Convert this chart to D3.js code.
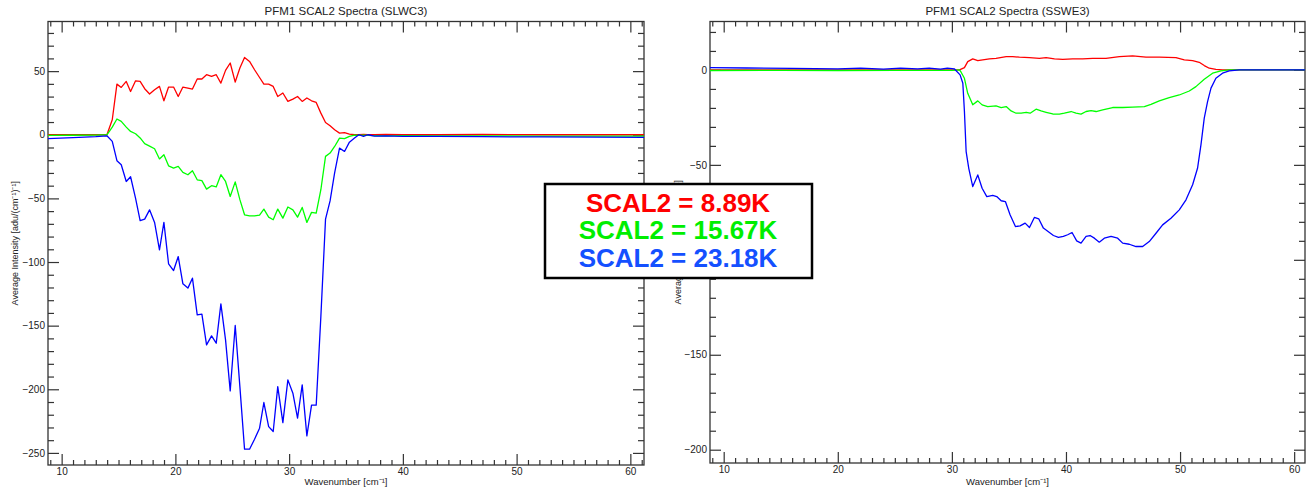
<!DOCTYPE html>
<html><head><meta charset="utf-8">
<script src="https://cdn.jsdelivr.net/npm/d3@7"></script>
<style>body{margin:0;background:#fff;} svg{display:block;font-family:"Liberation Sans",Arial,sans-serif;}</style>
</head><body><svg id="c" width="1314" height="489"></svg>
<script>
// ---------- DATA ----------
const leftX = [8.8, 11.0, 13.0, 13.98, 14.45, 14.86, 15.24, 15.68, 16.06, 16.5, 16.9, 17.3, 17.73, 18.17, 18.6, 18.99, 19.4, 19.84, 20.25, 20.66, 21.1, 21.5, 21.92, 22.33, 22.74, 23.18, 23.59, 24.0, 24.41, 24.82, 25.26, 25.67, 26.08, 26.52, 26.96, 27.4, 27.78, 28.2, 28.6, 29.0, 29.45, 29.89, 30.33, 30.74, 31.15, 31.56, 31.97, 32.38, 32.79, 33.2, 33.6, 34.0, 34.43, 34.87, 35.3, 35.75, 36.13, 36.54, 36.92, 37.5, 38.5, 40, 43, 47, 52, 57, 61.2];
const leftRed = [0, 0, 0, 0, 11.8, 39.8, 37.2, 41.9, 34, 42.4, 41.9, 36.2, 32, 35.4, 38, 26.7, 37.5, 37.5, 30.1, 37.5, 36.7, 35.9, 43.8, 43.8, 47.2, 45.9, 47.2, 40.6, 50.6, 56.4, 41.4, 52.4, 60.8, 57.6, 51.1, 45, 39.8, 39.8, 38, 30.1, 32.8, 26.2, 28, 30.1, 26.2, 28.9, 26.7, 25.4, 17, 9.7, 7.1, 3.9, 1.3, 1.6, 0.5, 0, 0, 0.3, 0, 0, 0.2, 0, 0, 0.2, 0, 0, 0];
const leftGreen = [-0.5, -0.4, -0.3, 0, 6, 12.4, 10.5, 6, 2.6, 0.8, -2.5, -7, -8.9, -11, -19, -15.7, -24.4, -26.2, -24.9, -29.6, -31.4, -28.3, -35.4, -36, -42.7, -40, -41, -31.4, -36.7, -48.5, -37, -51, -62.9, -63.7, -63.7, -63.1, -58.4, -64.7, -66.8, -58.4, -65.5, -56.8, -59, -64.7, -57.1, -68.9, -61, -61.6, -43.2, -17, -14.4, -9.2, -2.6, -3.1, -1.3, -0.3, -0.5, -0.3, -0.5, -0.6, -0.8, -0.7, -0.8, -0.9, -1, -1, -1];
const leftBlue = [-3.1, -2.3, -1.5, -0.8, -5.2, -20.4, -23.6, -36.7, -33, -50, -67.4, -66.3, -59, -68.9, -90.4, -68.9, -101.4, -106.7, -95.7, -117.1, -120.5, -112.7, -141.5, -140.9, -165.1, -158, -163.8, -132.9, -161.2, -201.3, -149.9, -197.9, -247.1, -247.1, -239.2, -230.6, -210.4, -229.3, -233.2, -197.9, -226.2, -192.6, -203.1, -222.7, -196.5, -236.6, -212.5, -212.5, -142.8, -66.3, -52, -30, -10.5, -13.1, -5.8, -2.6, 0, -1.3, 0, -1, -0.8, -1.2, -1.3, -1.5, -1.7, -1.9, -2.1];

const rightRedX = [8.8, 15, 20, 25, 30, 30.67, 31.1, 31.39, 31.83, 32.27, 32.7, 33.29, 33.87, 34.76, 35.33, 35.92, 36.8, 37.67, 38.26, 38.99, 39.72, 40.59, 41.46, 42.34, 43.51, 44.68, 45.84, 47.01, 48.18, 49.64, 50.37, 51.1, 51.68, 52.12, 52.56, 53.14, 53.72, 56, 60.95];
const rightRedY = [0, 0, 0, 0, 0, 0, 1.2, 4.4, 5.8, 4.9, 5.3, 5.8, 6.1, 7, 7, 6.7, 6.5, 6.1, 6.5, 5.8, 5.6, 5.8, 5.8, 6.1, 6.1, 7, 7.4, 6.7, 6.7, 6.5, 5.3, 4.9, 4, 2.3, 0.9, 0.3, 0, 0, 0];
const rightGreenX = [8.8, 15, 20, 25, 30, 30.67, 30.81, 31.1, 31.39, 31.83, 32.27, 32.65, 33.14, 33.87, 34.32, 34.76, 35.19, 35.63, 36.07, 36.51, 36.86, 37.38, 37.82, 38.26, 38.84, 39.42, 39.86, 40.45, 40.88, 41.32, 41.76, 42.2, 42.64, 43.22, 44.09, 44.97, 45.84, 46.87, 47.45, 48.18, 49.05, 49.93, 50.81, 51.39, 52.12, 52.85, 53.58, 54.3, 57, 60.95];
const rightGreenY = [-0.3, -0.2, -0.3, -0.2, -0.2, 0, -1.2, -4.4, -12.3, -18.4, -16.3, -18.4, -19.3, -18.9, -19.8, -19.3, -21.6, -22.8, -22.8, -22.3, -22.8, -20.7, -21.6, -22.3, -23.2, -23.3, -22.8, -21.9, -22.8, -23.3, -21.9, -21.4, -21.9, -21.1, -19.8, -19.8, -19.6, -19.3, -18.1, -16.3, -14.6, -13.2, -11.1, -8.8, -4.9, -1.7, -0.5, 0, 0, 0];
const rightBlueX = [8.8, 12, 16, 20, 22, 24, 25.5, 27, 28, 29, 29.6, 30.23, 30.72, 30.96, 31.1, 31.25, 31.48, 31.83, 32.27, 32.65, 33.06, 33.58, 33.93, 34.32, 34.69, 35.1, 35.57, 35.98, 36.42, 36.8, 37.23, 37.61, 38.02, 38.49, 38.9, 39.34, 39.77, 40.15, 40.53, 40.94, 41.32, 41.76, 42.11, 42.49, 42.92, 43.36, 43.95, 44.53, 44.97, 45.55, 46.14, 46.72, 47.3, 47.89, 48.47, 49.2, 49.93, 50.52, 51.1, 51.53, 51.83, 52.12, 52.41, 52.71, 53.14, 53.72, 54.31, 55.2, 58, 60.95];
const rightBlueY = [1.2, 1.0, 0.8, 0.6, 0.9, 0.4, 0.9, 0.5, 1.0, 0.4, 0.9, 0.5, -2.6, -7, -21.9, -43, -51.8, -61.4, -55.3, -62.3, -66.7, -66.1, -66.7, -68.9, -69.3, -76.3, -82.5, -82.1, -80.7, -83, -77.7, -78.4, -83.3, -85.4, -87.2, -88.2, -87.7, -86.8, -85.6, -90, -91.2, -87.7, -87.2, -88.6, -90.7, -88.6, -87.7, -88.6, -91.2, -91.8, -93, -93, -90.4, -86, -81.6, -78.1, -73.7, -68.4, -60.5, -51.8, -39.5, -25.4, -16.7, -9.6, -4.4, -1.7, -0.5, 0, 0, 0];

const xMajorTicks = [10, 20, 30, 40, 50, 60];
const leftYTicks = [50, 0, -50, -100, -150, -200, -250];
const rightYTicks = [0, -50, -100, -150, -200];
const titles = ["PFM1 SCAL2 Spectra (SLWC3)", "PFM1 SCAL2 Spectra (SSWE3)"];
const xLabel = "Wavenumber [cm\u207B\u00B9]";
const yLabel = "Average Intensity [adu/(cm\u207B\u00B9)\u207B\u00B9]";
const legendLabels = ["SCAL2 = 8.89K", "SCAL2 = 15.67K", "SCAL2 = 23.18K"];
const lineColors = ["#ff0000", "#00ff00", "#0000ff"];
const legendColors = ["#ff0000", "#00ee00", "#1450ff"];

// ---------- DRAW ----------
const svg = d3.select("#c");
const axisColor = "#333";

function drawChart(cfg) {
  const x = d3.scaleLinear().domain(cfg.xDomain).range([cfg.x0, cfg.x1]);
  const y = d3.scaleLinear().domain(cfg.yDomain).range([cfg.y1, cfg.y0]);
  const g = svg.append("g");
  const clipId = "clip" + cfg.id;
  svg.append("clipPath").attr("id", clipId).append("rect")
    .attr("x", cfg.x0).attr("y", cfg.y0).attr("width", cfg.x1 - cfg.x0).attr("height", cfg.y1 - cfg.y0);

  const xMinor = d3.range(Math.ceil(cfg.xDomain[0]), Math.floor(cfg.xDomain[1]) + 1, 1).filter(v => v % 10 !== 0);
  const yMinor = d3.range(Math.ceil(cfg.yDomain[0] / 10) * 10, cfg.yDomain[1], 10).filter(v => v % 50 !== 0);

  function styleAxis(sel) {
    sel.select(".domain").remove();
    sel.selectAll("line").attr("stroke", axisColor).attr("stroke-width", 1.2);
    sel.selectAll("text").attr("fill", "#222").style("font-size", "10px").style("font-family", "'Liberation Sans',Arial,sans-serif");
  }
  // bottom
  g.append("g").attr("transform", `translate(0,${cfg.y1})`).call(d3.axisBottom(x).tickValues(xMinor).tickSize(-5).tickFormat("")).call(styleAxis);
  g.append("g").attr("transform", `translate(0,${cfg.y1})`).call(d3.axisBottom(x).tickValues(xMajorTicks).tickSize(-11).tickPadding(3).tickFormat(d3.format("d"))).call(styleAxis);
  // top
  g.append("g").attr("transform", `translate(0,${cfg.y0})`).call(d3.axisTop(x).tickValues(xMinor).tickSize(-5).tickFormat("")).call(styleAxis);
  g.append("g").attr("transform", `translate(0,${cfg.y0})`).call(d3.axisTop(x).tickValues(xMajorTicks).tickSize(-11).tickFormat("")).call(styleAxis);
  // left
  g.append("g").attr("transform", `translate(${cfg.x0},0)`).call(d3.axisLeft(y).tickValues(yMinor).tickSize(-6).tickFormat("")).call(styleAxis);
  g.append("g").attr("transform", `translate(${cfg.x0},0)`).call(d3.axisLeft(y).tickValues(cfg.yTicks).tickSize(-11).tickPadding(3).tickFormat(d3.format("d"))).call(styleAxis);
  // right
  g.append("g").attr("transform", `translate(${cfg.x1},0)`).call(d3.axisRight(y).tickValues(yMinor).tickSize(-6).tickFormat("")).call(styleAxis);
  g.append("g").attr("transform", `translate(${cfg.x1},0)`).call(d3.axisRight(y).tickValues(cfg.yTicks).tickSize(-11).tickFormat("")).call(styleAxis);

  // frame
  g.append("rect").attr("x", cfg.x0).attr("y", cfg.y0).attr("width", cfg.x1 - cfg.x0).attr("height", cfg.y1 - cfg.y0)
    .attr("fill", "none").attr("stroke", axisColor).attr("stroke-width", 1.3);

  // series
  const line = d3.line().x(d => x(d[0])).y(d => y(d[1]));
  const lg = g.append("g").attr("clip-path", `url(#${clipId})`);
  cfg.series.forEach((s, i) => {
    const pts = s.x.map((v, k) => [v, s.y[k]]);
    lg.append("path").datum(pts).attr("d", line).attr("fill", "none")
      .attr("stroke", lineColors[i]).attr("stroke-width", 1.3).attr("stroke-linejoin", "round");
  });

  // title
  g.append("text").attr("x", (cfg.x0 + cfg.x1) / 2).attr("y", 15).attr("text-anchor", "middle")
    .attr("fill", "#222").style("font-size", "11.5px").text(cfg.title);
  // x label
  g.append("text").attr("x", (cfg.x0 + cfg.x1) / 2).attr("y", 485).attr("text-anchor", "middle")
    .attr("fill", "#222").style("font-size", "9.5px").text(xLabel);
  // y label
  g.append("text").attr("transform", `translate(${cfg.yLabelX},${(cfg.y0 + cfg.y1) / 2}) rotate(-90)`)
    .attr("text-anchor", "middle").attr("fill", "#222").style("font-size", "9px").text(yLabel);
}

drawChart({
  id: "L", x0: 48, x1: 644, y0: 21.5, y1: 465,
  xDomain: [8.8, 61.2], yDomain: [-259.5, 89], yTicks: leftYTicks,
  title: titles[0], yLabelX: 18,
  series: [{x: leftX, y: leftRed}, {x: leftX, y: leftGreen}, {x: leftX, y: leftBlue}]
});
drawChart({
  id: "R", x0: 710, x1: 1305, y0: 21.5, y1: 463,
  xDomain: [8.8, 60.95], yDomain: [-207, 25.5], yTicks: rightYTicks,
  title: titles[1], yLabelX: 681,
  series: [{x: rightRedX, y: rightRedY}, {x: rightGreenX, y: rightGreenY}, {x: rightBlueX, y: rightBlueY}]
});

// legend box
const leg = svg.append("g");
leg.append("rect").attr("x", 545).attr("y", 184).attr("width", 267).attr("height", 94)
  .attr("fill", "#fff").attr("stroke", "#000").attr("stroke-width", 2.5);
const legBaselines = [211.5, 239, 266.5];
legendLabels.forEach((t, i) => {
  leg.append("text").attr("x", 678).attr("y", legBaselines[i]).attr("text-anchor", "middle")
    .attr("fill", legendColors[i]).style("font-size", "26px").style("font-weight", "bold").text(t);
});
</script>
</body></html>
